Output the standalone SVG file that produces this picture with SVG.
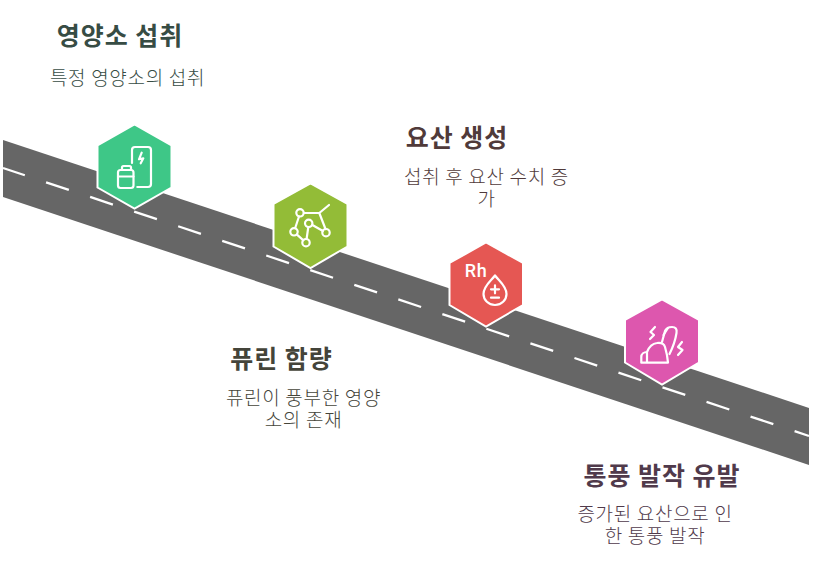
<svg xmlns="http://www.w3.org/2000/svg" width="820" height="565" viewBox="0 0 820 565">
<style>
text{font-family:"Noto Sans CJK KR","Noto Sans",sans-serif;text-anchor:middle}
.t{font-size:25px;font-weight:700;letter-spacing:.95px}
.b{font-size:19px;font-weight:300;letter-spacing:.7px}
.hex{stroke:#fff;stroke-width:2}
.i{fill:none;stroke:#fff;stroke-width:2.2;stroke-linecap:round;stroke-linejoin:round}
</style>
<rect width="820" height="565" fill="#fff"/>
<g id="connectors">
<polygon points="3,140 809,408 809,465 3,197" fill="#666"/>
<line x1="3" y1="168" x2="809" y2="436" stroke="#fff" stroke-width="2.300" stroke-dasharray="24 22.400" stroke-dashoffset="1"/>
</g>
<g id="node-intake">
<polygon class="hex" fill="#3EC787" points="134.500,124.500 171.500,145.500 171.500,187.500 134.500,208.500 97.500,187.500 97.500,145.500"/>
<path class="i" d="M132,163V150a3,3 0 0 1 3-3h13a3,3 0 0 1 3,3v34a3,3 0 0 1-3,3H137.300"/>
<path class="i" d="M141.700,152.700L139,159.300L143.300,158.300L140.700,163.300"/>
<rect class="i" x="118" y="170" width="15.500" height="18" rx="2.500"/>
<path class="i" d="M122,170v-2.500q0-1.500 1.500-1.500h6q1.500,0 1.500,1.500v2.500M118,176.500h15.500"/>
<text class="t" x="120" y="45" fill="#374C44">영양소 섭취</text>
<text class="b" x="127.500" y="85" fill="#374C44">특정 영양소의 섭취</text>
</g>
<g id="node-uric-acid">
<polygon class="hex" fill="#E55753" points="486,242.500 523,263 523,305 486,326.500 449.500,305 449.500,263"/>
<text x="476" y="277" fill="#fff" style="font-family:Roboto,sans-serif;font-size:18px;font-weight:500;letter-spacing:.6px">Rh</text>
<path class="i" d="M495,275.500C491,281 483.500,286 483.500,294a11.500,11 0 0 0 23,0C506.500,286 499,281 495,275.500Z"/>
<path class="i" d="M491,289.300h8M495,285.300v8M491,297.700h8"/>
<text class="t" x="457" y="147" fill="#503A3A">요산 생성</text>
<text class="b" fill="#503A3A"><tspan x="486.500" y="184">섭취 후 요산 수치 증</tspan><tspan x="486.500" y="206">가</tspan></text>
</g>
<g id="node-purine">
<polygon class="hex" fill="#93BC37" points="310.500,183.500 347.500,204 347.500,246.500 310.500,268 273.500,246.500 273.500,204"/>
<path class="i" d="M303.800,213H319.300L325.500,229M319.300,213L329,205M299,216.500L295.200,228M297,234.700L303.400,240.300M306.600,239L308.300,227M312.400,225L322.900,231"/>
<circle class="i" cx="300" cy="212.800" r="3.700"/>
<circle class="i" cx="294" cy="231.800" r="3.700"/>
<circle class="i" cx="306" cy="242.700" r="3.700"/>
<circle class="i" cx="308.700" cy="223.300" r="3.700"/>
<circle class="i" cx="326" cy="232.700" r="3.700"/>
<text class="t" x="281.500" y="368" fill="#44443A">퓨린 함량</text>
<text class="b" fill="#44443A"><tspan x="303.500" y="405">퓨린이 풍부한 영양</tspan><tspan x="303.500" y="427">소의 존재</tspan></text>
</g>
<g id="node-gout">
<polygon class="hex" fill="#DD57AE" points="662,299.500 699,320 699,362.500 662,384.500 625,362.500 625,320"/>
<path class="i" d="M641.300,362.700V357C641.300,354 644,352 647,352C649,347 652,343.500 657,343C661,342.500 664,343.500 665,347C666.500,352 667.500,357 668,362.700ZM647,352V362.700"/>
<path class="i" d="M662,342L665,331Q666.500,327 672,327Q677.500,327 676.500,333Q675,343 669.500,354"/>
<path class="i" d="M663.500,335L668,328"/>
<path class="i" d="M655,327l-4.500,5 3.500,3-4,4M682,342l-4,5 4.500,3-4.500,5"/>
<text class="t" x="662" y="485" fill="#503A4B">통풍 발작 유발</text>
<text class="b" fill="#503A4B"><tspan x="655" y="521">증가된 요산으로 인</tspan><tspan x="655" y="543">한 통풍 발작</tspan></text>
</g>
</svg>
